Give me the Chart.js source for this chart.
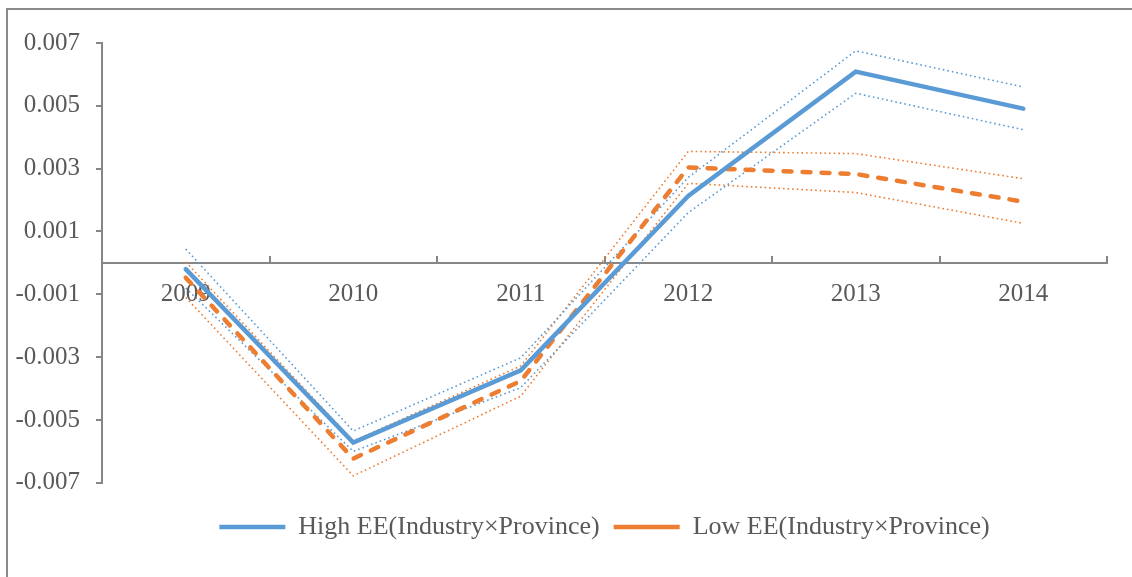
<!DOCTYPE html>
<html>
<head>
<meta charset="utf-8">
<script src="https://cdn.jsdelivr.net/npm/chart.js@4.4.1/dist/chart.umd.min.js"></script>
<style>
  html,body{margin:0;padding:0;background:#fff;overflow:hidden;}
  #frame{position:absolute;left:6px;top:8px;width:1300px;height:800px;border:2px solid #8a8a8a;}
  #wrap{position:absolute;left:0;top:0;width:1132px;height:577px;}
</style>
</head>
<body>
<div id="frame"></div>
<div id="wrap"><canvas id="chart" width="1132" height="577"></canvas></div>
<script>
// ---- data ----
const years = ["2009","2010","2011","2012","2013","2014"];
const highEE    = [-0.0002, -0.00572, -0.00342, 0.00213, 0.00609, 0.00491];
const highUpper = [0.00044, -0.00535, -0.00302, 0.00272, 0.00675, 0.0056];
const highLower = [-0.0008, -0.0060, -0.00397, 0.0016, 0.0054, 0.00424];
const lowEE     = [-0.00047, -0.00623, -0.00376, 0.00304, 0.00283, 0.00195];
const lowUpper  = [0.00003, -0.00567, -0.00328, 0.00355, 0.00348, 0.00268];
const lowLower  = [-0.0011, -0.00678, -0.00424, 0.00253, 0.00224, 0.00126];
const yMin = -0.007, yMax = 0.007, yStep = 0.002;

const BLUE = "#5b9bd5", ORANGE = "#ed7d31", TXT = "#595959", AXIS = "#868686";
const FONT = "'Liberation Serif','Times New Roman',serif";

function band(data, color){
  return {label:"", data, borderColor:color, borderWidth:1.6, borderDash:[1.6,3],
    pointRadius:0, tension:0, fill:false};
}

new Chart(document.getElementById("chart"),{
  type:"line",
  data:{
    labels:years,
    datasets:[
      {label:"High EE(Industry×Province)", data:highEE, borderColor:BLUE, backgroundColor:BLUE,
        borderWidth:4.5, borderCapStyle:"round", borderJoinStyle:"miter", pointRadius:0, tension:0},
      {label:"Low EE(Industry×Province)", data:lowEE, borderColor:ORANGE, backgroundColor:ORANGE,
        borderWidth:4.5, borderDash:[8,11], borderCapStyle:"round", pointRadius:0, tension:0},
      band(highUpper, BLUE),
      band(highLower, BLUE),
      band(lowUpper, ORANGE),
      band(lowLower, ORANGE)
    ]
  },
  options:{
    responsive:false,
    animation:false,
    layout:{padding:{left:0, top:43, right:25, bottom:27}},
    plugins:{
      tooltip:{enabled:false},
      legend:{
        position:"bottom",
        fullSize:false,
        title:{display:true, text:"", padding:{top:16,bottom:0}, font:{size:1}},
        labels:{
          filter:item=>!!item.text,
          usePointStyle:true,
          pointStyle:"line",
          pointStyleWidth:66,
          padding:14,
          color:TXT,
          font:{family:FONT, size:26}
        }
      }
    },
    scales:{
      x:{
        position:{y:0},
        offset:true,
        grid:{display:true, offset:true, drawOnChartArea:false, drawTicks:true,
          tickLength:-8, color:AXIS, lineWidth:2},
        border:{display:true, color:AXIS, width:2},
        ticks:{color:TXT, font:{family:FONT, size:25}, padding:25, maxRotation:0}
      },
      y:{
        min:yMin, max:yMax,
        afterFit:s=>{ s.width = 102; },
        grid:{drawOnChartArea:false, drawTicks:true, tickLength:6, color:AXIS, lineWidth:2},
        border:{display:true, color:AXIS, width:2},
        ticks:{stepSize:yStep, color:TXT, font:{family:FONT, size:25}, padding:16,
          callback:v=>v.toFixed(3)}
      }
    }
  }
});
</script>
</body>
</html>
